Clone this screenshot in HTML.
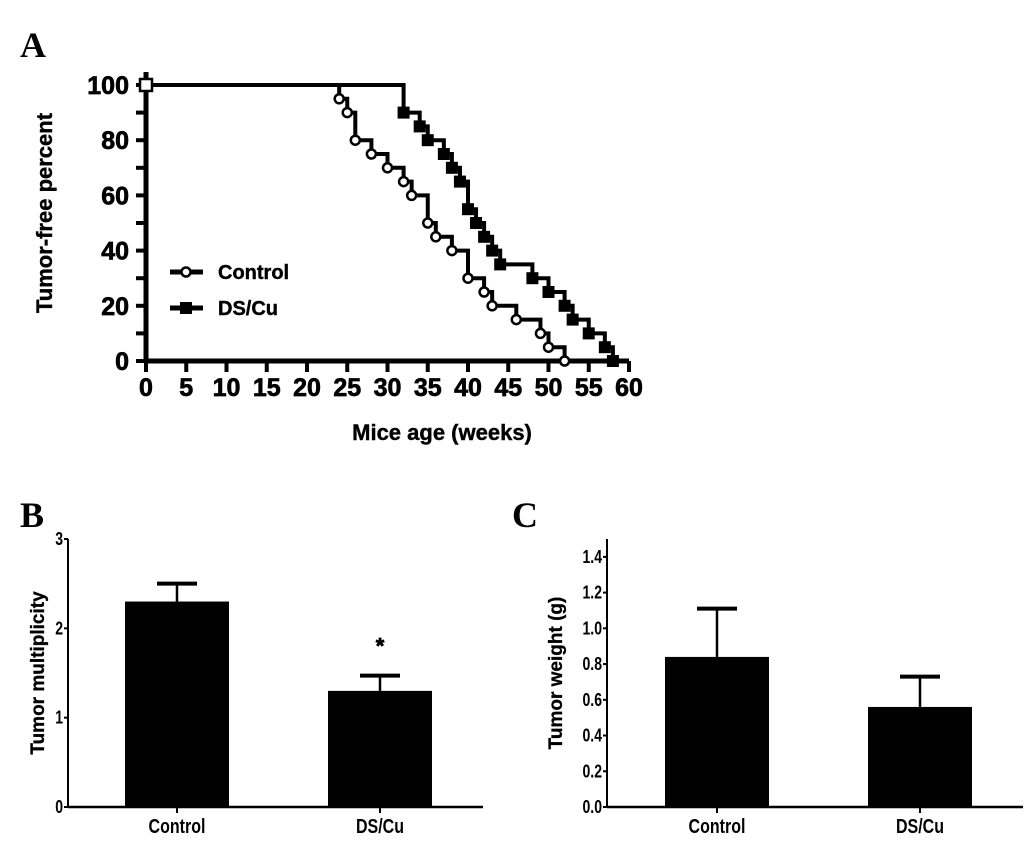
<!DOCTYPE html>
<html><head><meta charset="utf-8"><style>
html,body{margin:0;padding:0;background:#fff;}
svg{display:block;font-family:"Liberation Sans",Arial,sans-serif;}
</style></head><body>
<svg id="fig" width="1033" height="842" viewBox="0 0 1033 842">
<text x="20" y="57" font-family="Liberation Serif,serif" font-weight="bold" font-size="36">A</text>
<text x="20" y="527" font-family="Liberation Serif,serif" font-weight="bold" font-size="36">B</text>
<text x="512" y="527" font-family="Liberation Serif,serif" font-weight="bold" font-size="36">C</text>
<g id="pa"></g>
<g id="pb"></g>
<g id="pc"></g>
</svg>
<script>
const xTicksA=[0,5,10,15,20,25,30,35,40,45,50,55,60];
const yTicksA=[0,20,40,60,80,100];
const controlTimes=[24,25,26,28,30,32,33,35,36,38,40,42,43,46,49,50,52];
const controlValues=[95,90,80,75,70,65,60,50,45,40,30,25,20,15,10,5,0];
const dscuTimes=[32,34,35,37,38,39,40,41,42,43,44,48,50,52,53,55,57,58];
const dscuValues=[90,85,80,75,70,65,55,50,45,40,35,30,25,20,15,10,5,0];
const barCats=["Control","DS/Cu"];
const multMeans=[2.3,1.3];
const multErr=[0.2,0.17];
const multTicks=[0,1,2,3];
const weightMeans=[0.84,0.56];
const weightErr=[0.27,0.17];
const weightTicks=[0.0,0.2,0.4,0.6,0.8,1.0,1.2,1.4];
const NS='http://www.w3.org/2000/svg';
function mk(p,t,a,txt){const e=document.createElementNS(NS,t);for(const k in a)e.setAttribute(k,a[k]);if(txt!==undefined)e.textContent=txt;p.appendChild(e);return e;}
const heavy={'font-weight':'bold',stroke:'#000','stroke-width':0.7};
function T(p,a,txt){return mk(p,'text',Object.assign({},heavy,a),txt);}
function squeeze(t,f){const w=t.getComputedTextLength();t.setAttribute('textLength',(w*f).toFixed(1));t.setAttribute('lengthAdjust','spacingAndGlyphs');}
// Panel A
const pa=document.getElementById('pa');
const ax=t=>146+t*8.05, ay=v=>361-v*2.76;
let e=mk(pa,'line',{x1:146,y1:72,x2:146,y2:363,stroke:'#000','stroke-width':5});

e=mk(pa,'line',{x1:144,y1:361,x2:629,y2:361,stroke:'#000','stroke-width':5});

for(let v=0;v<=100;v+=10){mk(pa,'line',{x1:ax(0)-10,y1:ay(v),x2:ax(0),y2:ay(v),stroke:'#000','stroke-width':4});}
yTicksA.forEach(v=>{e=T(pa,{x:129,y:ay(v)+9,'text-anchor':'end','font-size':25},v);
});
xTicksA.forEach(t=>{mk(pa,'line',{x1:ax(t),y1:361,x2:ax(t),y2:372,stroke:'#000','stroke-width':4});
e=T(pa,{x:ax(t),y:396,'text-anchor':'middle','font-size':25},t);
});
e=T(pa,{x:442,y:440,'text-anchor':'middle','font-size':22,'stroke-width':0.4},'Mice age (weeks)');

e=T(pa,{x:0,y:0,'text-anchor':'middle','font-size':22,'stroke-width':0.4,transform:'translate(52,213) rotate(-90)'},'Tumor-free percent');

function curve(times,vals,filled,name){
  let d='M'+ax(0)+','+ay(100);
  times.forEach((t,i)=>{d+=' H'+ax(t)+' V'+ay(vals[i]);});
  const p=mk(pa,'path',{d:d,fill:'none',stroke:'#000','stroke-width':4});
  
  times.forEach((t,i)=>{const m=filled?mk(pa,'rect',{x:ax(t)-6,y:ay(vals[i])-6,width:12,height:12,fill:'#000'}):mk(pa,'circle',{cx:ax(t),cy:ay(vals[i]),r:4.5,fill:'#fff',stroke:'#000','stroke-width':2.5});
  });
}
curve(dscuTimes,dscuValues,true,'dscu');
curve(controlTimes,controlValues,false,'control');
e=mk(pa,'rect',{x:140,y:79,width:12,height:12,fill:'#fff',stroke:'#000','stroke-width':2.5});

let lg=mk(pa,'g',{});
mk(lg,'line',{x1:170,y1:272,x2:203,y2:272,stroke:'#000','stroke-width':5});
mk(lg,'circle',{cx:186,cy:272,r:4.5,fill:'#fff',stroke:'#000','stroke-width':2.5});
e=T(lg,{x:218,y:279,'font-size':20,'stroke-width':0.4},'Control');
mk(lg,'line',{x1:170,y1:308,x2:203,y2:308,stroke:'#000','stroke-width':5});
mk(lg,'rect',{x:180,y:302,width:12,height:12,fill:'#000'});
e=T(lg,{x:218,y:315,'font-size':20,'stroke-width':0.4},'DS/Cu');
function bars(g,x0,xEnd,yTop,y0,ymax,ticks,means,errs,centers,halfw,title,fmt,titleX){
  const sy=v=>y0-(v/ymax)*(y0-yTop);
  let a=mk(g,'line',{x1:x0,y1:yTop,x2:x0,y2:y0+1,stroke:'#000','stroke-width':2});
  a=mk(g,'line',{x1:x0,y1:y0,x2:xEnd,y2:y0,stroke:'#000','stroke-width':2.5});
  ticks.forEach(v=>{mk(g,'line',{x1:x0-4,y1:sy(v),x2:x0,y2:sy(v),stroke:'#000','stroke-width':2});
    const t=mk(g,'text',{x:x0-5,y:sy(v)+6,'text-anchor':'end','font-size':18,'font-weight':'bold'},fmt(v));
    squeeze(t,0.78);
    });
  means.forEach((m,i)=>{const c=centers[i];
    const eb=mk(g,'line',{x1:c,y1:sy(m),x2:c,y2:sy(m+errs[i]),stroke:'#000','stroke-width':2.5});
    mk(g,'line',{x1:c-20,y1:sy(m+errs[i]),x2:c+20,y2:sy(m+errs[i]),stroke:'#000','stroke-width':4});
    const b=mk(g,'rect',{x:c-halfw,y:sy(m),width:2*halfw,height:y0-sy(m),fill:'#000'});
    
    mk(g,'line',{x1:c,y1:y0,x2:c,y2:y0+6,stroke:'#000','stroke-width':2});
    const l=mk(g,'text',{x:c,y:y0+26,'text-anchor':'middle','font-size':20,'font-weight':'bold'},barCats[i]);
    squeeze(l,0.8);
    });
  const tt=T(g,{x:0,y:0,'text-anchor':'middle','font-size':19,'stroke-width':0.3,transform:'translate('+titleX+','+((yTop+y0)/2)+') rotate(-90)'},title);
  
  return sy;
}
const pb=document.getElementById('pb');
const syb=bars(pb,68,483,539,807,3,multTicks,multMeans,multErr,[177,380],52,'Tumor multiplicity',v=>String(v),44);
e=T(pb,{x:380,y:syb(multMeans[1]+multErr[1])-22,'text-anchor':'middle','font-size':22},'*');

const pc=document.getElementById('pc');
bars(pc,607,1023,539,807,1.5,weightTicks,weightMeans,weightErr,[717,920],52,'Tumor weight (g)',v=>v.toFixed(1),562);
</script>
</body></html>
